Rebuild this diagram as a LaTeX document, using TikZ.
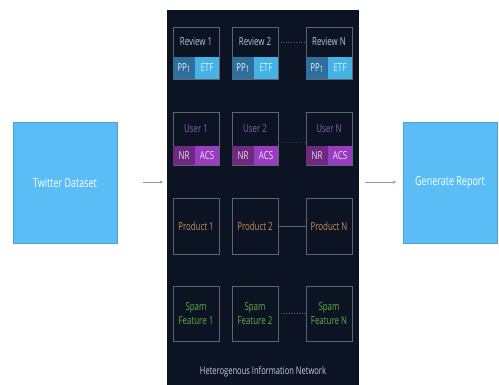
\documentclass[tikz,border=0pt]{standalone}
\usepackage{fontspec}
\setmainfont{Open Sans}[FakeStretch=0.72]
\usetikzlibrary{arrows.meta}
\definecolor{panelbg}{HTML}{0C1424}
\definecolor{boxblue}{HTML}{5BBDF5}
\definecolor{boxline}{HTML}{5E6472}
\definecolor{revtxt}{HTML}{A9CBE2}
\definecolor{ppfill}{HTML}{2F6F9C}
\definecolor{etffill}{HTML}{46B3E6}
\definecolor{usertxt}{HTML}{8C5FAE}
\definecolor{nrfill}{HTML}{6E2A7E}
\definecolor{acsfill}{HTML}{9A3CC0}
\definecolor{prodtxt}{HTML}{C98B5E}
\definecolor{spamtxt}{HTML}{5FAE45}
\definecolor{arrowc}{HTML}{7D9BB0}
\definecolor{nettxt}{HTML}{C9D0DC}
\begin{document}
\begin{tikzpicture}[x=1pt,y=-1pt,
  bigbox/.style={draw=boxblue!85!black, line width=0.5pt, fill=boxblue},
  bigtxt/.style={text=white, font=\fontsize{12.5}{14}\selectfont},
  topcell/.style={draw=boxline, line width=0.6pt, fill=panelbg},
  subcell/.style={font=\fontsize{11}{13}\selectfont},
  tallcell/.style={draw=boxline, line width=0.6pt, fill=panelbg, font=\fontsize{11}{13.5}\selectfont, align=center},
  flow/.style={draw=arrowc, line width=0.5pt, -{Stealth[length=3pt,width=3pt]}},
  link/.style={draw=boxline, line width=0.6pt}
]
\useasboundingbox (0,0) rectangle (499,385);
\fill[white] (0,0) rectangle (499,385);
% side boxes
\path[bigbox] (13,122) rectangle (117,243);
\node[bigtxt] (twitter) at (65,182.5) {Twitter Dataset};
\path[bigbox] (403,122) rectangle (497,243);
\node[bigtxt] (report) at (450,182.5) {Generate Report};
% panel
\fill[panelbg] (167,10) rectangle (359,385);
\node[text=nettxt, font=\fontsize{10.5}{12}\selectfont] (net) at (263,372) {Heterogenous Information Network};
% arrows
\coordinate (a1s) at (143,182);
\coordinate (a1e) at (163,182);
\coordinate (a2s) at (365,182);
\coordinate (a2e) at (396,182);
\draw[flow] (a1s) -- (a1e);
\draw[flow] (a2s) -- (a2e);
% columns
\foreach \c/\x/\lab in {1/173/1,2/232/2,N/306/N}{
  % review
  \draw[topcell] (\x,27) rectangle (\x+46,79);
  \node[text=revtxt, subcell] (rev\c) at (\x+23,42) {Review \lab};
  \fill[ppfill] (\x,57) rectangle (\x+22,79);
  \fill[etffill] (\x+22,57) rectangle (\x+46,79);
  \node[text=white!88!ppfill, subcell] (pp\c) at (\x+11,68) {PP\raisebox{-0.3ex}{\fontsize{9}{10}\selectfont 1}};
  \node[text=white!80!etffill, subcell] (etf\c) at (\x+34,68) {ETF};
  % user
  \draw[topcell] (\x,112) rectangle (\x+46,165);
  \node[text=usertxt, subcell] (user\c) at (\x+23,129) {User \lab};
  \fill[nrfill] (\x,146) rectangle (\x+22,165);
  \fill[acsfill] (\x+22,146) rectangle (\x+46,165);
  \node[text=white!85!nrfill, subcell] (nr\c) at (\x+11,155.5) {NR};
  \node[text=white!85!acsfill, subcell] (acs\c) at (\x+34,155.5) {ACS};
  % product
  \node[tallcell, minimum width=46pt, minimum height=56pt, text=prodtxt] (prod\c) at (\x+23,226) {Product \lab};
  % spam
  \node[tallcell, minimum width=46pt, minimum height=55pt, text=spamtxt, text depth=0pt] (spam\c) at (\x+23,313.5) {Spam\\Feature \lab};
}
% links between column 2 and N
\draw[link, dotted] (rev2.east -| 278,53) -- (revN.west -| 306,53);
\draw[link, dotted, draw=boxline!40!panelbg] (278,142) -- (306,142);
\draw[link] (prod2.east) -- (prodN.west);
\draw[link, dotted] (spam2.east) -- (spamN.west);
\end{tikzpicture}
\end{document}
